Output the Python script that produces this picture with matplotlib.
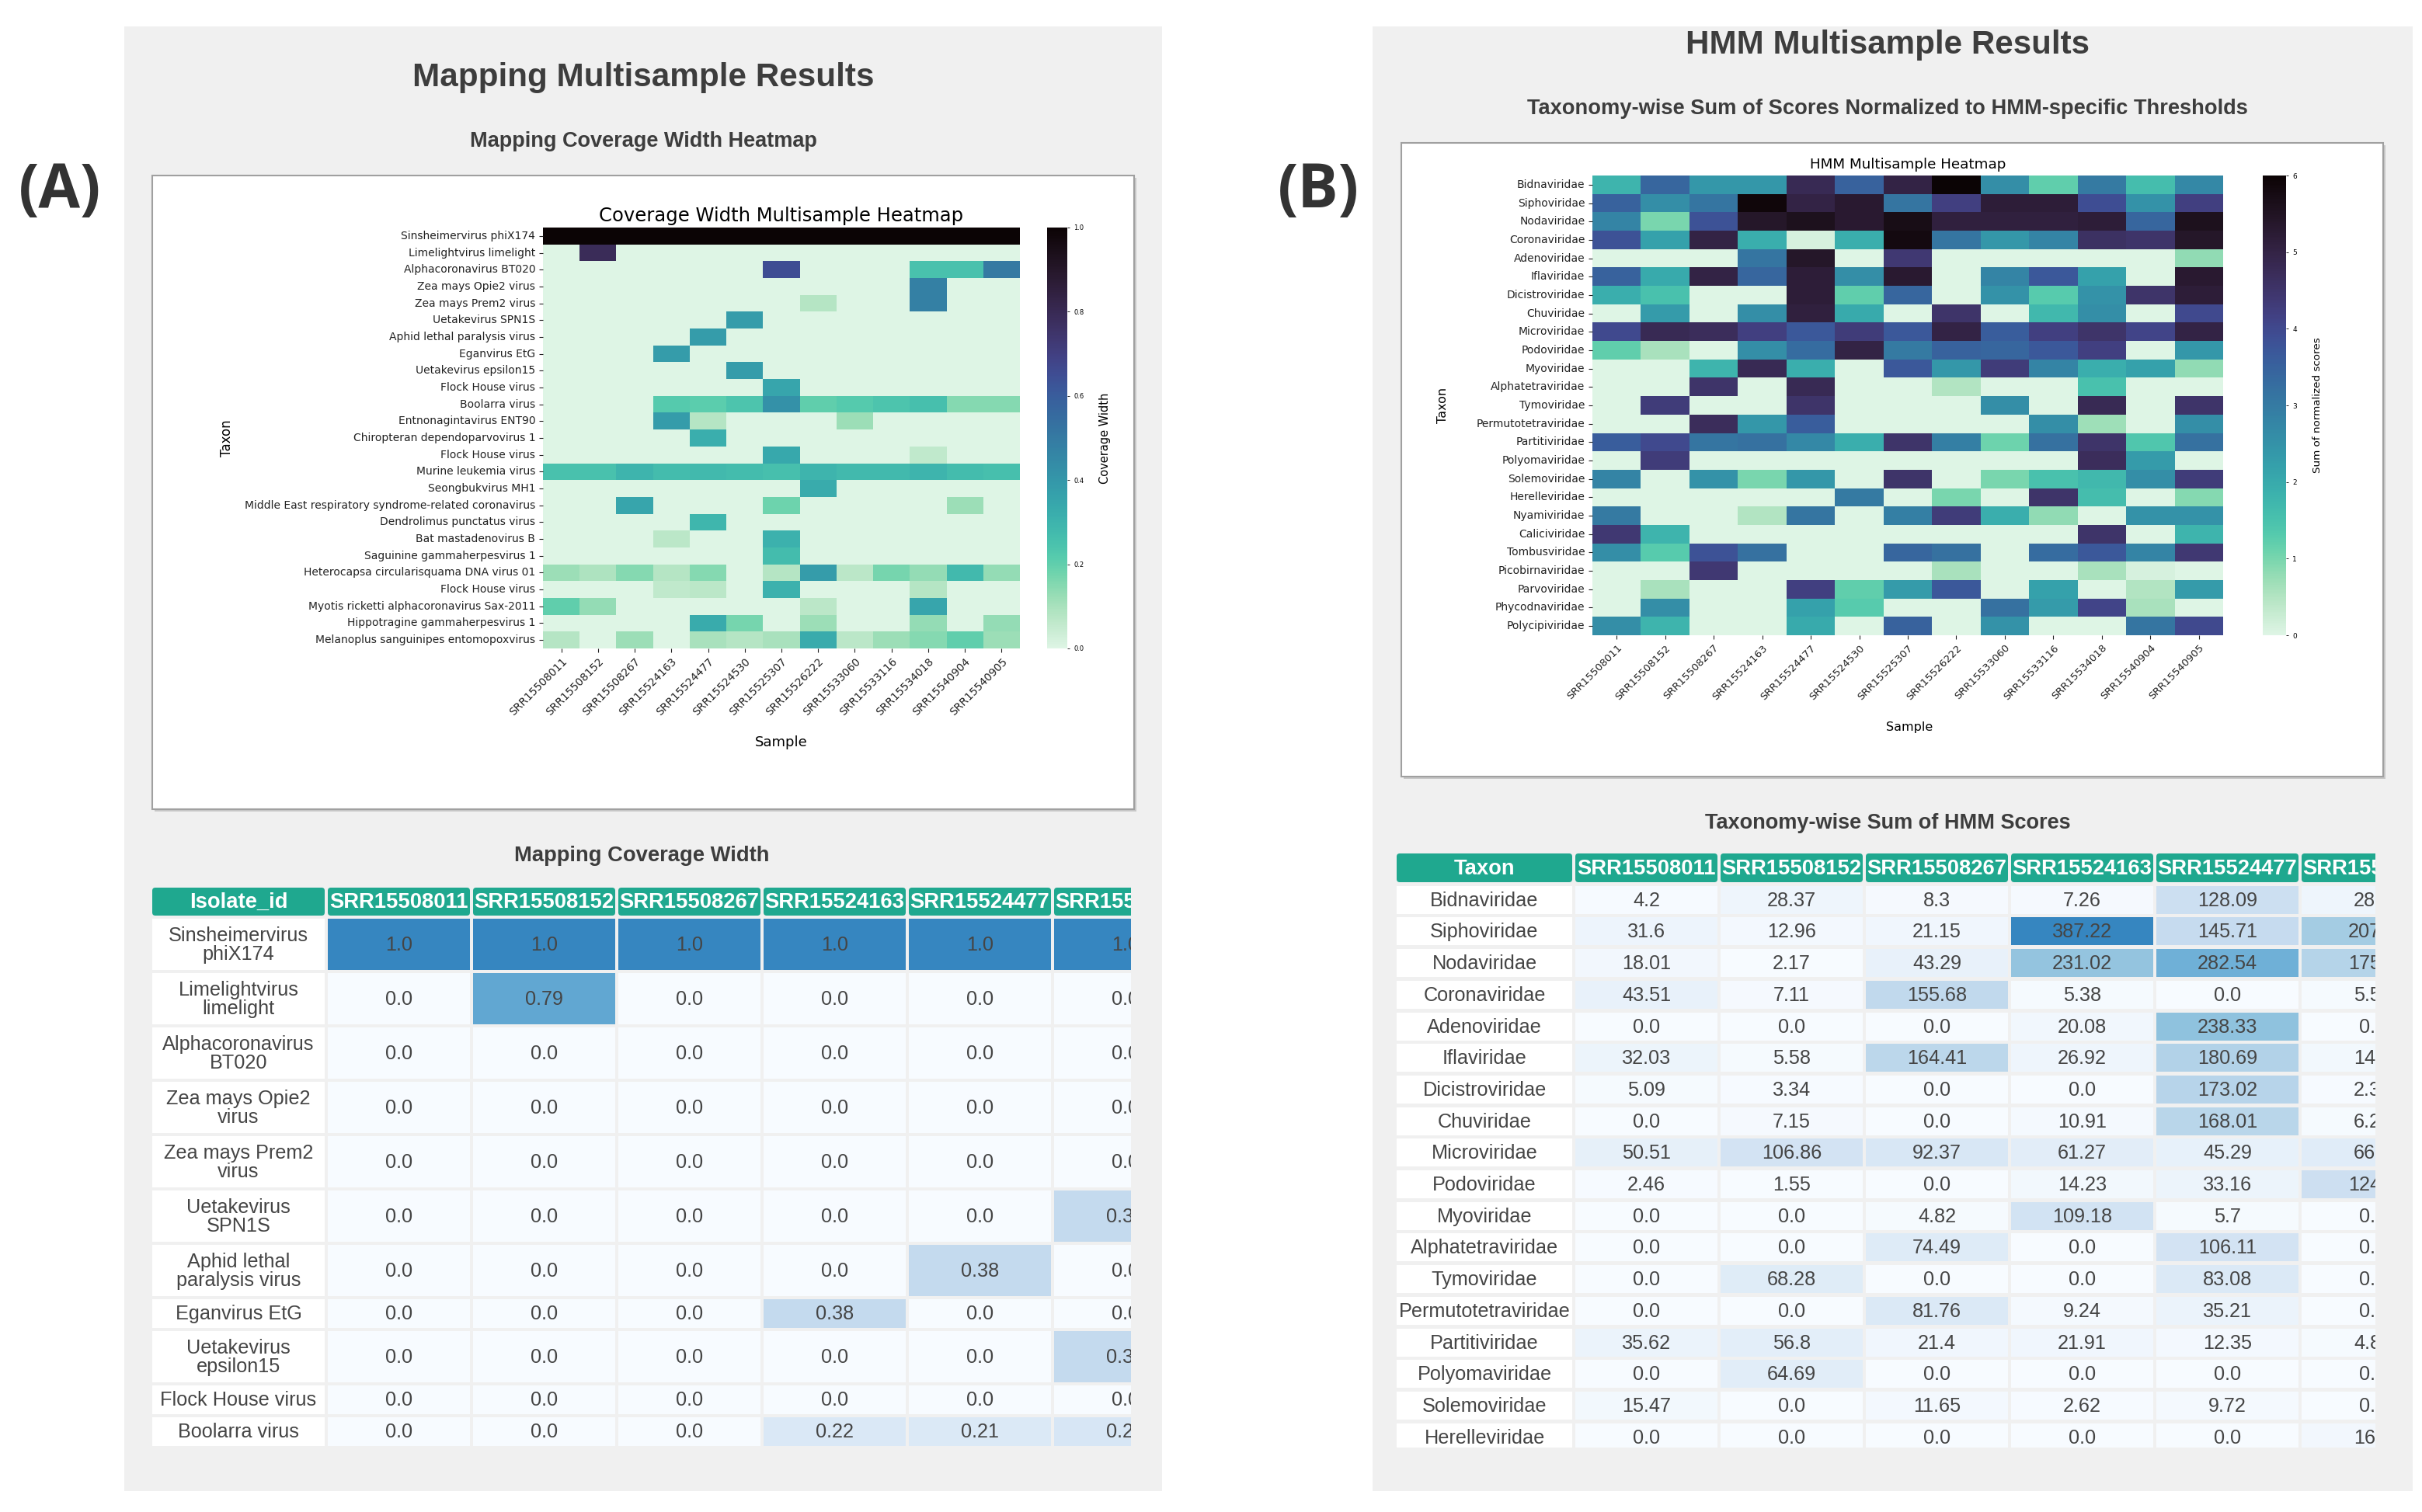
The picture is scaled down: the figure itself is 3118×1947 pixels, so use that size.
import numpy as np
import matplotlib
matplotlib.use("Agg")
import matplotlib.pyplot as plt
import seaborn as sns
from matplotlib.patches import Rectangle, FancyBboxPatch
from matplotlib.font_manager import FontProperties

# ---------------- data ----------------
samples = ["SRR15508011", "SRR15508152", "SRR15508267", "SRR15524163", "SRR15524477",
           "SRR15524530", "SRR15525307", "SRR15526222", "SRR15533060", "SRR15533116",
           "SRR15534018", "SRR15540904", "SRR15540905"]

mapping_taxa = ["Sinsheimervirus phiX174", "Limelightvirus limelight", "Alphacoronavirus BT020",
                "Zea mays Opie2 virus", "Zea mays Prem2 virus", "Uetakevirus SPN1S",
                "Aphid lethal paralysis virus", "Eganvirus EtG", "Uetakevirus epsilon15",
                "Flock House virus", "Boolarra virus", "Entnonagintavirus ENT90",
                "Chiropteran dependoparvovirus 1", "Flock House virus", "Murine leukemia virus",
                "Seongbukvirus MH1", "Middle East respiratory syndrome-related coronavirus",
                "Dendrolimus punctatus virus", "Bat mastadenovirus B", "Saguinine gammaherpesvirus 1",
                "Heterocapsa circularisquama DNA virus 01", "Flock House virus",
                "Myotis ricketti alphacoronavirus Sax-2011", "Hippotragine gammaherpesvirus 1",
                "Melanoplus sanguinipes entomopoxvirus"]

coverage_width = np.array([
    [1.0, 1.0, 1.0, 1.0, 1.0, 1.0, 1.0, 1.0, 1.0, 1.0, 1.0, 1.0, 1.0],
    [0.0, 0.79, 0.0, 0.0, 0.0, 0.0, 0.0, 0.0, 0.0, 0.0, 0.0, 0.0, 0.0],
    [0.0, 0.0, 0.0, 0.0, 0.0, 0.0, 0.65, 0.0, 0.0, 0.0, 0.25, 0.25, 0.5],
    [0.0, 0.0, 0.0, 0.0, 0.0, 0.0, 0.0, 0.0, 0.0, 0.0, 0.48, 0.0, 0.0],
    [0.0, 0.0, 0.0, 0.0, 0.0, 0.0, 0.0, 0.08, 0.0, 0.0, 0.48, 0.0, 0.0],
    [0.0, 0.0, 0.0, 0.0, 0.0, 0.38, 0.0, 0.0, 0.0, 0.0, 0.0, 0.0, 0.0],
    [0.0, 0.0, 0.0, 0.0, 0.38, 0.0, 0.0, 0.0, 0.0, 0.0, 0.0, 0.0, 0.0],
    [0.0, 0.0, 0.0, 0.38, 0.0, 0.0, 0.0, 0.0, 0.0, 0.0, 0.0, 0.0, 0.0],
    [0.0, 0.0, 0.0, 0.0, 0.0, 0.38, 0.0, 0.0, 0.0, 0.0, 0.0, 0.0, 0.0],
    [0.0, 0.0, 0.0, 0.0, 0.0, 0.0, 0.35, 0.0, 0.0, 0.0, 0.0, 0.0, 0.0],
    [0.0, 0.0, 0.0, 0.22, 0.21, 0.24, 0.42, 0.2, 0.22, 0.24, 0.26, 0.15, 0.15],
    [0.0, 0.0, 0.0, 0.38, 0.08, 0.0, 0.0, 0.0, 0.12, 0.0, 0.0, 0.0, 0.0],
    [0.0, 0.0, 0.0, 0.0, 0.32, 0.0, 0.0, 0.0, 0.0, 0.0, 0.0, 0.0, 0.0],
    [0.0, 0.0, 0.0, 0.0, 0.0, 0.0, 0.34, 0.0, 0.0, 0.0, 0.06, 0.0, 0.0],
    [0.25, 0.25, 0.3, 0.27, 0.28, 0.27, 0.26, 0.3, 0.28, 0.28, 0.3, 0.27, 0.26],
    [0.0, 0.0, 0.0, 0.0, 0.0, 0.0, 0.0, 0.33, 0.0, 0.0, 0.0, 0.0, 0.0],
    [0.0, 0.0, 0.35, 0.0, 0.0, 0.0, 0.18, 0.0, 0.0, 0.0, 0.0, 0.12, 0.0],
    [0.0, 0.0, 0.0, 0.0, 0.29, 0.0, 0.0, 0.0, 0.0, 0.0, 0.0, 0.0, 0.0],
    [0.0, 0.0, 0.0, 0.07, 0.0, 0.0, 0.31, 0.0, 0.0, 0.0, 0.0, 0.0, 0.0],
    [0.0, 0.0, 0.0, 0.0, 0.0, 0.0, 0.27, 0.0, 0.0, 0.0, 0.0, 0.0, 0.0],
    [0.12, 0.09, 0.15, 0.08, 0.15, 0.0, 0.08, 0.38, 0.07, 0.17, 0.13, 0.28, 0.13],
    [0.0, 0.0, 0.0, 0.06, 0.07, 0.0, 0.31, 0.0, 0.0, 0.0, 0.08, 0.0, 0.0],
    [0.2, 0.13, 0.0, 0.0, 0.0, 0.0, 0.0, 0.07, 0.0, 0.0, 0.35, 0.0, 0.0],
    [0.0, 0.0, 0.0, 0.0, 0.33, 0.17, 0.0, 0.12, 0.0, 0.0, 0.13, 0.0, 0.13],
    [0.08, 0.0, 0.12, 0.0, 0.1, 0.08, 0.1, 0.33, 0.07, 0.12, 0.15, 0.2, 0.12],
])

hmm_taxa = ["Bidnaviridae", "Siphoviridae", "Nodaviridae", "Coronaviridae", "Adenoviridae",
            "Iflaviridae", "Dicistroviridae", "Chuviridae", "Microviridae", "Podoviridae",
            "Myoviridae", "Alphatetraviridae", "Tymoviridae", "Permutotetraviridae",
            "Partitiviridae", "Polyomaviridae", "Solemoviridae", "Herelleviridae",
            "Nyamiviridae", "Caliciviridae", "Tombusviridae", "Picobirnaviridae",
            "Parvoviridae", "Phycodnaviridae", "Polycipiviridae"]

hmm_normalized = np.array([
    [1.8, 3.4, 2.4, 2.4, 4.8, 3.5, 5.0, 6.0, 2.6, 1.2, 3.0, 1.6, 2.7],
    [3.5, 2.6, 3.1, 5.9, 5.0, 5.3, 3.1, 4.2, 5.2, 5.2, 3.9, 2.5, 4.2],
    [2.8, 1.0, 3.8, 5.4, 5.6, 5.3, 5.7, 5.1, 5.1, 5.1, 5.2, 3.4, 5.6],
    [3.8, 2.2, 5.0, 1.9, 0.1, 1.9, 5.8, 3.1, 2.4, 2.8, 4.6, 4.5, 5.4],
    [0.0, 0.0, 0.0, 3.1, 5.4, 0.0, 4.4, 0.0, 0.0, 0.0, 0.0, 0.0, 0.8],
    [3.5, 2.0, 5.0, 3.4, 5.2, 2.6, 5.3, 0.0, 2.8, 3.7, 2.2, 0.0, 5.3],
    [1.9, 1.5, 0.0, 0.0, 5.2, 1.2, 3.4, 0.0, 2.5, 1.3, 2.5, 4.5, 5.2],
    [0.0, 2.3, 0.0, 2.6, 5.1, 2.0, 0.0, 4.5, 0.0, 1.7, 2.6, 0.0, 4.0],
    [4.0, 4.8, 4.7, 4.2, 3.7, 4.3, 3.7, 5.0, 3.6, 4.2, 4.5, 4.1, 5.0],
    [1.2, 0.6, 0.0, 2.6, 3.3, 5.0, 3.0, 3.5, 3.4, 3.7, 4.2, 0.0, 2.4],
    [0.0, 0.0, 1.8, 4.8, 1.9, 0.0, 3.7, 2.4, 4.3, 2.8, 1.9, 2.2, 0.8],
    [0.0, 0.0, 4.5, 0.0, 4.8, 0.0, 0.0, 0.5, 0.0, 0.0, 1.5, 0.0, 0.0],
    [0.0, 4.3, 0.0, 0.0, 4.5, 0.0, 0.0, 0.0, 2.6, 0.0, 4.8, 0.0, 4.5],
    [0.0, 0.0, 4.7, 2.4, 3.6, 0.0, 0.0, 0.0, 0.0, 2.6, 0.7, 0.0, 2.6],
    [3.6, 4.0, 3.1, 3.2, 2.7, 1.9, 4.5, 2.9, 1.1, 3.2, 4.5, 1.4, 3.2],
    [0.0, 4.3, 0.0, 0.0, 0.0, 0.0, 0.0, 0.0, 0.0, 0.0, 4.7, 2.3, 0.0],
    [2.8, 0.0, 2.5, 1.0, 2.4, 0.0, 4.5, 0.0, 1.0, 1.5, 1.7, 2.6, 4.3],
    [0.0, 0.0, 0.0, 0.0, 0.0, 3.0, 0.0, 1.0, 0.0, 4.5, 1.6, 0.0, 0.9],
    [3.0, 0.0, 0.0, 0.5, 3.1, 0.0, 2.9, 4.3, 1.9, 0.8, 0.0, 2.5, 2.5],
    [4.4, 1.8, 0.0, 0.0, 0.0, 0.0, 0.0, 0.0, 0.0, 0.0, 4.5, 0.0, 1.8],
    [2.6, 1.3, 3.8, 3.2, 0.0, 0.0, 3.4, 3.2, 0.0, 3.3, 3.7, 2.8, 4.4],
    [0.0, 0.0, 4.4, 0.0, 0.0, 0.0, 0.0, 0.6, 0.0, 0.0, 0.6, 0.1, 0.0],
    [0.0, 0.6, 0.0, 0.0, 4.2, 1.2, 2.3, 3.7, 0.0, 2.2, 0.0, 0.5, 2.3],
    [0.0, 2.6, 0.0, 0.0, 2.2, 1.3, 0.0, 0.0, 3.2, 2.3, 4.1, 0.6, 0.0],
    [2.6, 1.8, 0.0, 0.0, 2.0, 0.0, 3.5, 0.0, 2.5, 0.0, 0.0, 3.1, 4.0],
])

# raw HMM score sums shown in the table (first 18 taxa, first 6 samples)
hmm_sum_scores = np.array([
    [4.2, 28.37, 8.3, 7.26, 128.09, 28.5],
    [31.6, 12.96, 21.15, 387.22, 145.71, 207.3],
    [18.01, 2.17, 43.29, 231.02, 282.54, 175.4],
    [43.51, 7.11, 155.68, 5.38, 0.0, 5.53],
    [0.0, 0.0, 0.0, 20.08, 238.33, 0.0],
    [32.03, 5.58, 164.41, 26.92, 180.69, 14.6],
    [5.09, 3.34, 0.0, 0.0, 173.02, 2.31],
    [0.0, 7.15, 0.0, 10.91, 168.01, 6.27],
    [50.51, 106.86, 92.37, 61.27, 45.29, 66.1],
    [2.46, 1.55, 0.0, 14.23, 33.16, 124.5],
    [0.0, 0.0, 4.82, 109.18, 5.7, 0.0],
    [0.0, 0.0, 74.49, 0.0, 106.11, 0.0],
    [0.0, 68.28, 0.0, 0.0, 83.08, 0.0],
    [0.0, 0.0, 81.76, 9.24, 35.21, 0.0],
    [35.62, 56.8, 21.4, 21.91, 12.35, 4.81],
    [0.0, 64.69, 0.0, 0.0, 0.0, 0.0],
    [15.47, 0.0, 11.65, 2.62, 9.72, 0.0],
    [0.0, 0.0, 0.0, 0.0, 0.0, 16.2],
])

table_a_rows = 11
table_cols = 6
hmm_table_rows = 18

# ---------------- figure ----------------
W, H = 3118, 1947
fig = plt.figure(figsize=(W / 100, H / 100), dpi=100)
fig.patch.set_facecolor("white")
renderer = fig.canvas.get_renderer()


def fbox(x0, y0, x1, y1):
    return [x0 / W, 1 - y1 / H, (x1 - x0) / W, (y1 - y0) / H]


PAGE_FONT = ["Liberation Sans", "DejaVu Sans"]


def text_w(s, fp):
    w, h, d = renderer.get_text_width_height_descent(s, fp, ismath=False)
    return w


def fit_size(s, target_px, weight="normal", family=PAGE_FONT):
    fp = FontProperties(family=family, weight=weight, size=100)
    return 100.0 * target_px / text_w(s, fp)


bg = fig.add_axes([0, 0, 1, 1])
bg.set_xlim(0, W)
bg.set_ylim(H, 0)
bg.axis("off")

panel_col = "#f0f0f0"
title_col = "#3d3d3d"
bg.add_patch(Rectangle((160, 34), 1336, 1886, fc=panel_col, ec="none"))
bg.add_patch(Rectangle((1767, 34), 1339, 1886, fc=panel_col, ec="none"))

# panel letters
bg.text(77, 247, "(A)", ha="center", va="center", fontsize=56, fontweight="bold",
        family=["Open Sans", "DejaVu Sans"], color="#333333")
bg.text(1697, 247, "(B)", ha="center", va="center", fontsize=56, fontweight="bold",
        family=["Open Sans", "DejaVu Sans"], color="#333333")

# page titles
titles = [
    ("Mapping Multisample Results", 828, 100, 594),
    ("Mapping Coverage Width Heatmap", 828, 182, 448),
    ("HMM Multisample Results", 2430, 58, 520),
    ("Taxonomy-wise Sum of Scores Normalized to HMM-specific Thresholds", 2430, 140, 924),
    ("Mapping Coverage Width", 826, 1102, 328),
    ("Taxonomy-wise Sum of HMM Scores", 2430, 1060, 472),
]
for s, x, y, tw in titles:
    bg.text(x, y, s, ha="center", va="center", fontweight="bold", family=PAGE_FONT,
            fontsize=fit_size(s, tw, "bold"), color=title_col)

# white boxes holding the heatmap images
for (x0, y0) in [(196, 226), (1804, 184)]:
    bg.add_patch(Rectangle((x0 + 3, y0 + 3), 1264, 816, fc="#c8c8c8", ec="none"))
    bg.add_patch(Rectangle((x0, y0), 1264, 816, fc="white", ec="#a0a0a0", lw=1.5))

cmap = sns.color_palette("mako_r", as_cmap=True)

# ---------------- heatmap A ----------------
axA = fig.add_axes(fbox(699, 293, 1313, 835))
caxA = fig.add_axes(fbox(1348, 293, 1374, 835))
sns.heatmap(coverage_width, cmap=cmap, vmin=0, vmax=1, ax=axA, cbar_ax=caxA,
            xticklabels=samples, yticklabels=mapping_taxa,
            cbar_kws={"ticks": [0, 0.2, 0.4, 0.6, 0.8, 1.0]})
axA.set_yticklabels(mapping_taxa, fontsize=10, rotation=0)
axA.set_xticklabels(samples, fontsize=10, rotation=45, ha="right", rotation_mode="anchor")
axA.tick_params(length=3.5, width=0.8, colors="#222222")
caxA.tick_params(labelsize=6, length=2.5, width=0.6)
caxA.set_yticklabels(["0.0", "0.2", "0.4", "0.6", "0.8", "1.0"])
bg.text(1006, 278, "Coverage Width Multisample Heatmap", ha="center", va="center", fontsize=17.5)
bg.text(292, 564, "Taxon", ha="center", va="center", rotation=90, fontsize=12)
bg.text(1006, 956, "Sample", ha="center", va="center", fontsize=13)
bg.text(1423, 564, "Coverage Width", ha="center", va="center", rotation=90, fontsize=10.5)

# ---------------- heatmap B ----------------
axB = fig.add_axes(fbox(2050, 226, 2862, 818))
caxB = fig.add_axes(fbox(2913, 226, 2943, 818))
sns.heatmap(hmm_normalized, cmap=cmap, vmin=0, vmax=6, ax=axB, cbar_ax=caxB,
            xticklabels=samples, yticklabels=hmm_taxa,
            cbar_kws={"ticks": [0, 1, 2, 3, 4, 5, 6]})
axB.set_yticklabels(hmm_taxa, fontsize=10, rotation=0)
axB.set_xticklabels(samples, fontsize=9.5, rotation=45, ha="right", rotation_mode="anchor")
axB.tick_params(length=3.5, width=0.8, colors="#222222")
caxB.tick_params(labelsize=6.5, length=2.5, width=0.6)
bg.text(2456, 212, "HMM Multisample Heatmap", ha="center", va="center", fontsize=13.2)
bg.text(1858, 522, "Taxon", ha="center", va="center", rotation=90, fontsize=11.5)
bg.text(2458, 936, "Sample", ha="center", va="center", fontsize=11.5)
bg.text(2984, 522, "Sum of normalized scores", ha="center", va="center", rotation=90, fontsize=9.7)

# ---------------- tables ----------------
blues = plt.get_cmap("Blues")
header_col = "#1fa88f"
cell_txt = "#454545"
body_size = fit_size("Sinsheimervirus", 180)
head_size = fit_size("SRR15508011", 178, "bold")
body_fp = FontProperties(family=PAGE_FONT, size=body_size)


def fmt(v):
    return str(round(float(v), 2))


def wrap_to_width(s, maxw):
    words = s.split()
    lines, cur = [], ""
    for w in words:
        trial = (cur + " " + w).strip()
        if not cur or text_w(trial, body_fp) <= maxw:
            cur = trial
        else:
            lines.append(cur)
            cur = w
    lines.append(cur)
    return "\n".join(lines)


def draw_table(clip, x0, y0, name_w, col_w, col_gap, head_h, line_h, pad_h, gap,
               corner, names, cols, vals, vmax, wrap):
    ax = fig.add_axes(fbox(*clip))
    ax.set_xlim(clip[0], clip[2])
    ax.set_ylim(clip[3], clip[1])
    ax.axis("off")
    xs = [x0] + [x0 + name_w + col_gap + i * (col_w + col_gap) for i in range(len(cols))]
    ws = [name_w] + [col_w] * len(cols)
    # header
    for j, lab in enumerate([corner] + list(cols)):
        ax.add_patch(FancyBboxPatch((xs[j] + 3, y0 + 3), ws[j] - 6, head_h - 6,
                                    boxstyle="round,pad=3,rounding_size=4",
                                    fc=header_col, ec="none"))
        ax.text(xs[j] + ws[j] / 2, y0 + head_h / 2 + 1, lab, ha="center", va="center",
                color="white", fontweight="bold", fontsize=head_size, family=PAGE_FONT,
                clip_on=True)
    y = y0 + head_h + gap
    for i, nm in enumerate(names):
        label = wrap_to_width(nm, name_w - 8) if wrap else nm
        nlines = label.count("\n") + 1
        rh = pad_h + nlines * line_h
        ax.add_patch(Rectangle((xs[0], y), ws[0], rh, fc="white", ec="none"))
        ax.text(xs[0] + ws[0] / 2, y + rh / 2 + 1, label, ha="center", va="center",
                color=cell_txt, fontsize=body_size, family=PAGE_FONT, linespacing=1.05,
                clip_on=True)
        for j in range(len(cols)):
            v = vals[i, j]
            ax.add_patch(Rectangle((xs[j + 1], y), ws[j + 1], rh,
                                   fc=blues(0.67 * v / vmax), ec="none"))
            ax.text(xs[j + 1] + ws[j + 1] / 2, y + rh / 2 + 1, fmt(v), ha="center",
                    va="center", color=cell_txt, fontsize=body_size, family=PAGE_FONT,
                    clip_on=True)
        y += rh + gap
    return ax


draw_table((190, 1136, 1456, 1880), 196, 1143, 222, 183, 4, 36, 29, 8, 4, "Isolate_id",
           mapping_taxa[:table_a_rows], samples[:table_cols],
           coverage_width[:table_a_rows, :table_cols], coverage_width.max(), True)

draw_table((1794, 1094, 3058, 1864), 1798, 1099, 226, 183, 4, 37, 29, 7, 4.7, "Taxon",
           hmm_taxa[:hmm_table_rows], samples[:table_cols],
           hmm_sum_scores, hmm_sum_scores.max(), False)

fig.savefig("out.png", dpi=100, facecolor="white")
